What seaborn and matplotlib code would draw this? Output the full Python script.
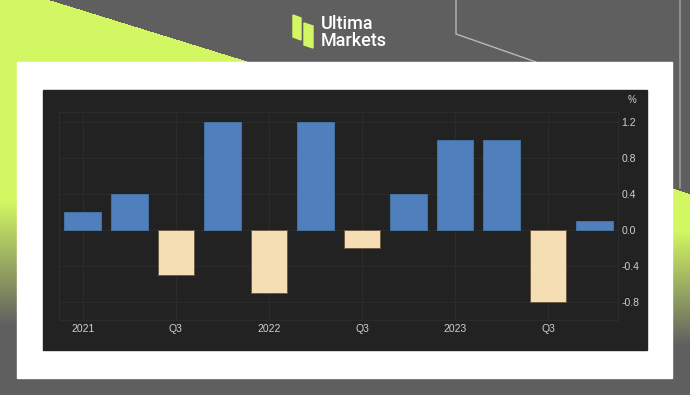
import matplotlib
matplotlib.use("Agg")
import matplotlib.pyplot as plt
import numpy as np
import pandas as pd
import seaborn as sns
from matplotlib.patches import Polygon, Rectangle

# Data: quarter-on-quarter change, %
quarters = ['2021 Q1', '2021 Q2', '2021 Q3', '2021 Q4',
            '2022 Q1', '2022 Q2', '2022 Q3', '2022 Q4',
            '2023 Q1', '2023 Q2', '2023 Q3', '2023 Q4']
values = [0.2, 0.4, -0.5, 1.2, -0.7, 1.2, -0.2, 0.4, 1.0, 1.0, -0.8, 0.1]
tick_labels = ['2021', 'Q3', '2022', 'Q3', '2023', 'Q3']
y_ticks = [-0.8, -0.4, 0.0, 0.4, 0.8, 1.2]

W, H = 690, 395
BLUE = '#4f80bd'
BEIGE = '#f5deb3'
LIME = np.array([211, 247, 99]) / 255
GRAY = np.array([95, 95, 95]) / 255

sns.set_theme(style='dark')
plt.rcParams['font.family'] = ['Liberation Sans', 'DejaVu Sans']
plt.rcParams['axes.unicode_minus'] = False

fig = plt.figure(figsize=(W / 100, H / 100), dpi=100)

# ---- background (pixel coordinates) ----
bg = fig.add_axes([0, 0, 1, 1])
yy, xx = np.mgrid[0:H, 0:W]
t = np.zeros((H, W))
# top-left lime triangle
t[(xx < 50 + (250 - 50) * yy / 62) & (yy < 62)] = 1
# left strip, fading out
left = np.clip((325 - yy) / (325 - 200), 0, 1)
t = np.where(xx < 17, np.maximum(t, left), t)
# right strip, fading out
right = np.clip((345 - yy) / (345 - 230), 0, 1)
right = np.where(yy > 188 + 6 * (xx - 673) / 17, right, 0)
t = np.where(xx > 672, np.maximum(t, right), t)
img = GRAY[None, None, :] * (1 - t[..., None]) + LIME[None, None, :] * t[..., None]
bg.imshow(img, extent=[0, W, H, 0], aspect='auto', interpolation='bilinear')
bg.set_xlim(0, W)
bg.set_ylim(H, 0)
bg.axis('off')

bg.plot([456, 456, 536], [0, 34, 62], color='#b8b8b8', lw=1)
bg.plot([680, 680], [0, 188], color='#9a9a9a', lw=1.2)

bg.add_patch(Rectangle((17, 62), 655, 316, color='white', zorder=2))
bg.add_patch(Rectangle((43, 90), 604, 260, color='#222222', zorder=3))

# logo
bg.add_patch(Polygon([(293, 15), (301, 18), (301, 40), (293, 37)], color='#d3f763', zorder=3))
bg.add_patch(Polygon([(304, 23), (313, 26), (313, 48), (304, 45)], color='#d3f763', zorder=3))
bg.text(321, 24, 'Ultima', color='white', fontsize=13, va='center', ha='left',
        family=['Roboto', 'DejaVu Sans'], weight='medium', zorder=4)
bg.text(321, 40.5, 'Markets', color='white', fontsize=13, va='center', ha='left',
        family=['Roboto', 'DejaVu Sans'], weight='medium', zorder=4)

# ---- chart ----
df = pd.DataFrame({'quarter': quarters, 'value': values})
df['sign'] = np.where(df['value'] >= 0, 'up', 'down')

ax = fig.add_axes([59 / W, 1 - 320 / H, (618 - 59) / W, (320 - 111.7) / H])
ax.set_facecolor('#222222')
sns.barplot(data=df, x='quarter', y='value', hue='sign',
            palette={'up': BLUE, 'down': BEIGE}, dodge=False, width=0.785,
            saturation=1, legend=False, ax=ax, zorder=3)
for p in ax.patches:
    up = p.get_height() >= 0
    p.set_edgecolor('#46729f' if up else '#6b5c44')
    p.set_linewidth(0.7)

ax.set_xlim(-0.51, 11.5)
ax.set_ylim(-1.0, 1.31)
ax.set_xticks(range(0, 12, 2))
ax.set_xticklabels(tick_labels)
ax.set_yticks(y_ticks)
ax.set_yticklabels([f'{v:.1f}' for v in y_ticks])
ax.yaxis.tick_right()
ax.tick_params(axis='both', length=0, labelsize=7.5, labelcolor='#cfcfcf')
ax.tick_params(axis='x', pad=3)
ax.tick_params(axis='y', pad=2.5)
ax.grid(True, color='#2b2b2b', lw=0.8, zorder=0)
ax.set_xlabel('')
ax.set_ylabel('')
for s in ax.spines.values():
    s.set_color('#2b2b2b')
    s.set_linewidth(0.8)

fig.text(632 / W, 1 - 100 / H, '%', color='#cfcfcf', fontsize=7, ha='center', va='center')

fig.savefig('out.png', dpi=100)
